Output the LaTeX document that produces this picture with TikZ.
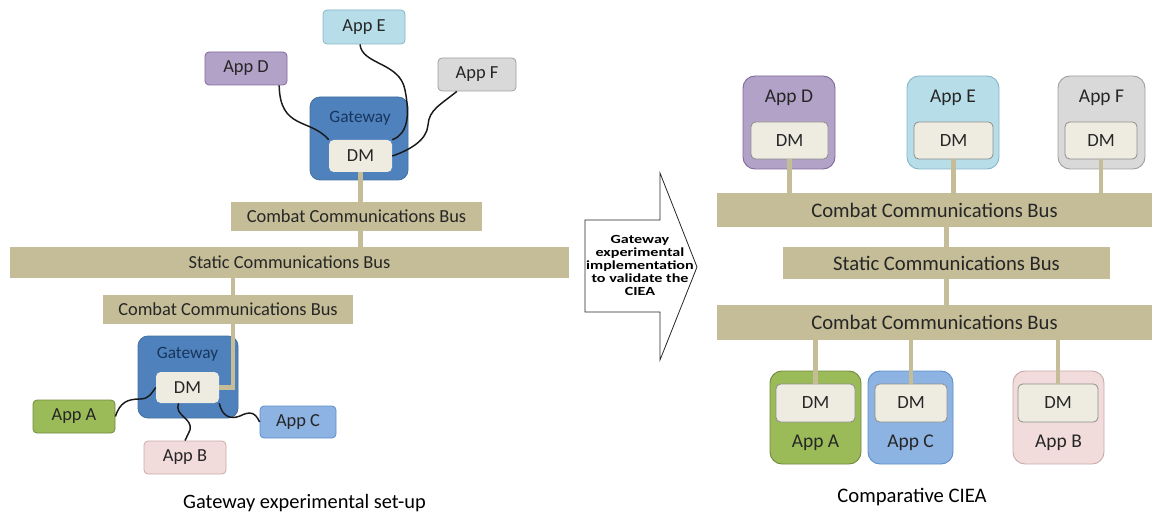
\documentclass[tikz,border=0pt]{standalone}
\usepackage{fontspec}
\setmainfont{Carlito}
\usepackage{graphicx}
\usetikzlibrary{calc}

\definecolor{busTan}{HTML}{C4BD97}
\definecolor{gwBlue}{HTML}{4F81BD}
\definecolor{gwEdge}{HTML}{41719C}
\definecolor{gwText}{HTML}{17365D}
\definecolor{dmCream}{HTML}{EEECE1}
\definecolor{dmEdge}{HTML}{8C8C8C}
\definecolor{appAfill}{HTML}{9BBB59}
\definecolor{appAedge}{HTML}{71893F}
\definecolor{appBfill}{HTML}{F2DCDB}
\definecolor{appBedge}{HTML}{C9ABAA}
\definecolor{appCfill}{HTML}{8DB3E2}
\definecolor{appCedge}{HTML}{5F8FCB}
\definecolor{appDfill}{HTML}{B3A2C7}
\definecolor{appDedge}{HTML}{7F6A9A}
\definecolor{appEfill}{HTML}{B7DEE8}
\definecolor{appEedge}{HTML}{86B6C8}
\definecolor{appFfill}{HTML}{D9D9D9}
\definecolor{appFedge}{HTML}{A0A0A0}

\tikzset{
  sz/.style 2 args={minimum width=#1*0.75pt, minimum height=#2*0.75pt},
  bus/.style={fill=busTan, inner sep=0pt, text=black!85},
  app/.style 2 args={fill=#1, draw=#2, line width=0.6pt, rounded corners=3pt, inner sep=0pt, text=black!85},
  bigapp/.style 2 args={fill=#1, draw=#2, line width=0.7pt, rounded corners=9pt, inner sep=0pt},
  gw/.style={fill=gwBlue, draw=gwEdge, line width=0.6pt, rounded corners=7.5pt},
  dm/.style={fill=dmCream, rounded corners=3.5pt, inner sep=0pt, text=black!85},
  dmr/.style={dm, draw=dmEdge, line width=0.6pt},
  wire/.style={line width=1.1pt, draw=black!90},
  link/.style={line width=3.2pt, draw=busTan},
}

\def\fA{\fontsize{13.8}{16}\selectfont}   % left labels
\def\fR{\fontsize{15.5}{18}\selectfont}   % right labels

\begin{document}
\begin{tikzpicture}[x=0.75pt,y=-0.75pt]
  \useasboundingbox (0,0) rectangle (1152,513);

  % ---- Left: gateway experimental set-up ----
  \node (appE) [app={appEfill}{appEedge}, sz={82}{34}, font=\fA] at (364,27) {App E};
  \node (appD) [app={appDfill}{appDedge}, sz={82}{33}, font=\fA] at (246,68.5) {App D};
  \node (appF) [app={appFfill}{appFedge}, sz={78}{33}, font=\fA] at (477,74.5) {App F};

  \node (gwT) [gw, sz={98}{83}] at (359,138.5) {};
  \node (gwTl) [text=gwText, font=\fontsize{13}{15}\selectfont] at (360,118) {Gateway};
  \node (dmT) [dm, sz={63}{32}, font=\fA] at (360.5,156) {DM};

  \node (busT) [bus, sz={251}{29}, font=\fA] at (356.5,216.5) {Combat Communications Bus};
  \node (busS) [bus, sz={559}{30}, font=\fA] at (289.5,262.5) {Static Communications Bus};
  \node (busB) [bus, sz={250}{29}, font=\fA] at (228,309.5) {Combat Communications Bus};

  \node (gwB) [gw, sz={100}{82}] at (188,377) {};
  \node (gwBl) [text=gwText, font=\fontsize{13}{15}\selectfont] at (187.5,354) {Gateway};
  \node (dmB) [dm, sz={63}{31}, font=\fA] at (187.5,387.5) {DM};

  \node (appA) [app={appAfill}{appAedge}, sz={82}{33}, font=\fA] at (74,416.5) {App A};
  \node (appB) [app={appBfill}{appBedge}, sz={82}{33}, font=\fA] at (185,457.5) {App B};
  \node (appC) [app={appCfill}{appCedge}, sz={76}{32}, font=\fA] at (298,422) {App C};

  % bus links
  \draw[link] (dmT.south) -- (dmT.south |- busT.north);
  \draw[link] (busT.south -| dmT.south) -- (dmT.south |- busS.north);
  \draw[link] ($(busB.north)+(5,0)$) -- ($(busB.north |- busS.south)+(5,0)$);
  \draw[link] (dmB.east) -| ($(busB.south)+(5,0)$);

  % wires to the apps
  \draw[wire] (appD.-27) .. controls (280,130) and (310,118) .. (dmT.north west);
  \draw[wire] (appE.-103) .. controls (362,65) and (400,62) .. (405,90)
                          .. controls (410,115) and (408,134) .. (dmT.north east);
  \draw[wire] (appF.-140) .. controls (440,105) and (429,110) .. (428,125)
                          .. controls (427,140) and (410,150) .. (dmT.east);
  \draw[wire] (appA.east) .. controls (120,402) and (128,399) .. (140,399)
                          .. controls (150,399) and (152,392) .. (dmB.west);
  \draw[wire] ($(dmB.south)+(-9,0)$) .. controls (174,416) and (193,418) .. (190,430)
                          .. controls (188,436) .. (appB.north);
  \draw[wire] (dmB.south east) .. controls (222,416) and (230,420) .. (240,416)
                          .. controls (250,411) and (255,412) .. (appC.west);

  \node (capL) [font=\fontsize{15.3}{18}\selectfont, inner sep=0pt] at (304.5,503) {Gateway experimental set-up};

  % ---- Middle arrow ----
  \draw[line width=0.6pt, draw=black!85, fill=white]
    (585,220) -- (660,220) -- (660,173) -- (697,267) -- (660,360) -- (660,312) -- (585,312) -- cycle;
  \node (arrowTxt) [font=\bfseries\fontsize{9.3}{9.75}\selectfont] at (640,267)
    {\scalebox{1.3}[1]{\begin{tabular}{@{}c@{}}Gateway\\experimental\\implementation\\to validate the\\CIEA\end{tabular}}};

  % ---- Right: comparative CIEA ----
  \node (rD) [bigapp={appDfill}{appDedge}, sz={92}{93}] at (789,122.5) {};
  \node (rE) [bigapp={appEfill}{appEedge}, sz={92}{93}] at (953,122.5) {};
  \node (rF) [bigapp={appFfill}{appFedge}, sz={87}{93}] at (1101.5,122.5) {};
  \node (rDl) [font=\fontsize{14.6}{17}\selectfont, text=black!85] at (789,98) {App D};
  \node (rEl) [font=\fontsize{14.6}{17}\selectfont, text=black!85] at (953,98) {App E};
  \node (rFl) [font=\fontsize{14.6}{17}\selectfont, text=black!85] at (1101.5,98) {App F};
  \node (rDdm) [dmr, sz={77}{37}, font=\fontsize{14}{16}\selectfont] at (789.5,140.5) {DM};
  \node (rEdm) [dmr, sz={79}{37}, font=\fontsize{14}{16}\selectfont] at (953.5,140.5) {DM};
  \node (rFdm) [dmr, sz={72}{37}, font=\fontsize{14}{16}\selectfont] at (1101,140.5) {DM};

  \node (rbusT) [bus, sz={435}{34}, font=\fR] at (934.5,210) {Combat Communications Bus};
  \node (rbusS) [bus, sz={327}{32}, font=\fR] at (946.5,263) {Static Communications Bus};
  \node (rbusB) [bus, sz={435}{35}, font=\fR] at (934.5,322.5) {Combat Communications Bus};

  \node (rA) [bigapp={appAfill}{appAedge}, sz={91}{93}] at (815.5,417.5) {};
  \node (rC) [bigapp={appCfill}{appCedge}, sz={85}{93}] at (910.5,417.5) {};
  \node (rB) [bigapp={appBfill}{appBedge}, sz={91}{93}] at (1058.5,417.5) {};
  \node (rAl) [font=\fontsize{14.6}{17}\selectfont, text=black!85] at (815.5,443) {App A};
  \node (rCl) [font=\fontsize{14.6}{17}\selectfont, text=black!85] at (910.5,443) {App C};
  \node (rBl) [font=\fontsize{14.6}{17}\selectfont, text=black!85] at (1058.5,443) {App B};
  \node (rAdm) [dmr, sz={79}{38}, font=\fontsize{14}{16}\selectfont] at (815.5,403) {DM};
  \node (rCdm) [dmr, sz={72}{38}, font=\fontsize{14}{16}\selectfont] at (911,403) {DM};
  \node (rBdm) [dmr, sz={80}{38}, font=\fontsize{14}{16}\selectfont] at (1058,403) {DM};

  % bus links
  \draw[link] (rDdm.south) -- (rDdm.south |- rbusT.north);
  \draw[link] (rEdm.south) -- (rEdm.south |- rbusT.north);
  \draw[link] (rFdm.south) -- (rFdm.south |- rbusT.north);
  \draw[link] (rbusT.south -| rbusS.north) -- (rbusS.north);
  \draw[link] (rbusS.south) -- (rbusS.south |- rbusB.north);
  \draw[link] (rbusB.south -| rAdm.north) -- (rAdm.north);
  \draw[link] (rbusB.south -| rCdm.north) -- (rCdm.north);
  \draw[link] (rbusB.south -| rBdm.north) -- (rBdm.north);

  \node (capR) [font=\fontsize{15.5}{18}\selectfont] at (912,497) {Comparative CIEA};
\end{tikzpicture}
\end{document}
